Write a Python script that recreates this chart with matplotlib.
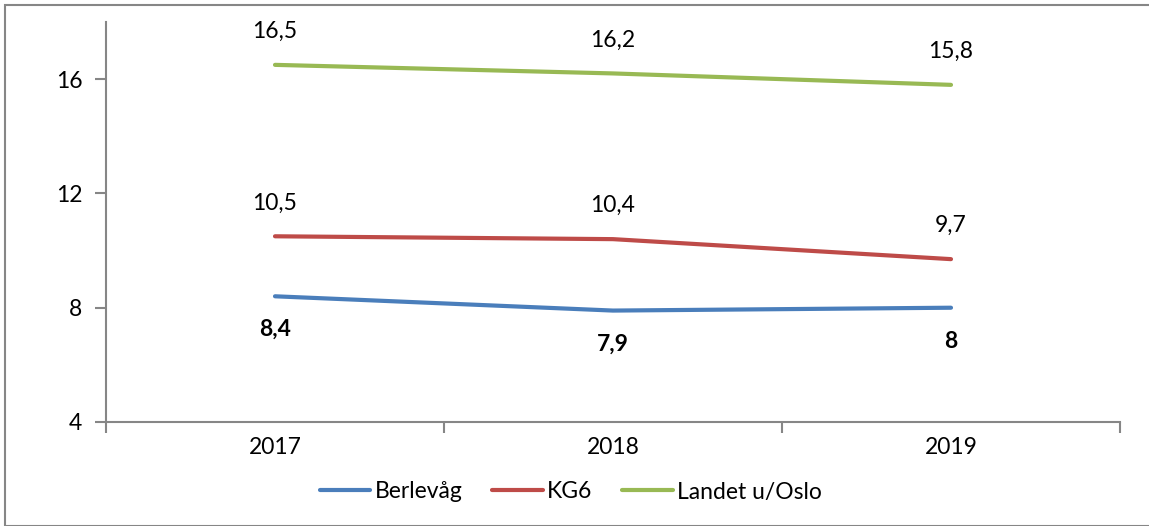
import matplotlib.pyplot as plt
from matplotlib.patches import Rectangle

plt.rcParams['font.family'] = ['Lato', 'DejaVu Sans']

years = ['2017', '2018', '2019']
berlevag = [8.4, 7.9, 8.0]
kg6 = [10.5, 10.4, 9.7]
landet = [16.5, 16.2, 15.8]
labels_berlevag = ['8,4', '7,9', '8']
labels_kg6 = ['10,5', '10,4', '9,7']
labels_landet = ['16,5', '16,2', '15,8']
yticks = [4, 8, 12, 16]

c_blue = '#4A7EBB'
c_red = '#BE4B48'
c_green = '#98B954'
grey = '#868686'
fs = 16.5

fig = plt.figure(figsize=(11.49, 5.26), dpi=100)
ax = fig.add_axes([106 / 1149, 1 - 422 / 526, (1120 - 106) / 1149, (422 - 22) / 526])

# outer frame of the chart area
fig.patches.append(Rectangle((5 / 1149, 0), 1, 1 - 5 / 526, transform=fig.transFigure,
                             fill=False, edgecolor=grey, linewidth=1.5))

x = range(len(years))
ax.plot(x, berlevag, color=c_blue, lw=3, label='Berlevåg', solid_capstyle='round')
ax.plot(x, kg6, color=c_red, lw=3, label='KG6', solid_capstyle='round')
ax.plot(x, landet, color=c_green, lw=3, label='Landet u/Oslo', solid_capstyle='round')

for i in x:
    ax.annotate(labels_landet[i], (i, landet[i]), xytext=(0, 24), textcoords='offset points',
                ha='center', va='center', fontsize=fs)
    ax.annotate(labels_kg6[i], (i, kg6[i]), xytext=(0, 24), textcoords='offset points',
                ha='center', va='center', fontsize=fs)
    ax.annotate(labels_berlevag[i], (i, berlevag[i]), xytext=(0, -24), textcoords='offset points',
                ha='center', va='center', fontsize=fs, fontweight='bold')

ax.set_xlim(-0.5, 2.5)
ax.set_ylim(4, 18)
ax.set_yticks(yticks)
ax.set_yticklabels([str(v) for v in yticks], fontsize=fs)
ax.set_xticks([-0.5, 0.5, 1.5, 2.5])
ax.set_xticklabels([])
ax.set_xticks(list(x), minor=True)
ax.set_xticklabels(years, minor=True, fontsize=fs)
ax.tick_params(axis='x', which='minor', length=0, pad=11)
ax.tick_params(axis='x', which='major', length=8, color=grey, width=1.5)
ax.tick_params(axis='y', length=8, color=grey, width=1.5, pad=9)

for s in ['top', 'right']:
    ax.spines[s].set_visible(False)
for s in ['left', 'bottom']:
    ax.spines[s].set_color(grey)
    ax.spines[s].set_linewidth(1.5)

fig.legend(loc='center', bbox_to_anchor=(571 / 1149, 1 - 492 / 526), ncol=3, frameon=False,
           fontsize=fs, handlelength=2.2, handletextpad=0.2, columnspacing=1.3)

fig.savefig('out.png', dpi=100)
